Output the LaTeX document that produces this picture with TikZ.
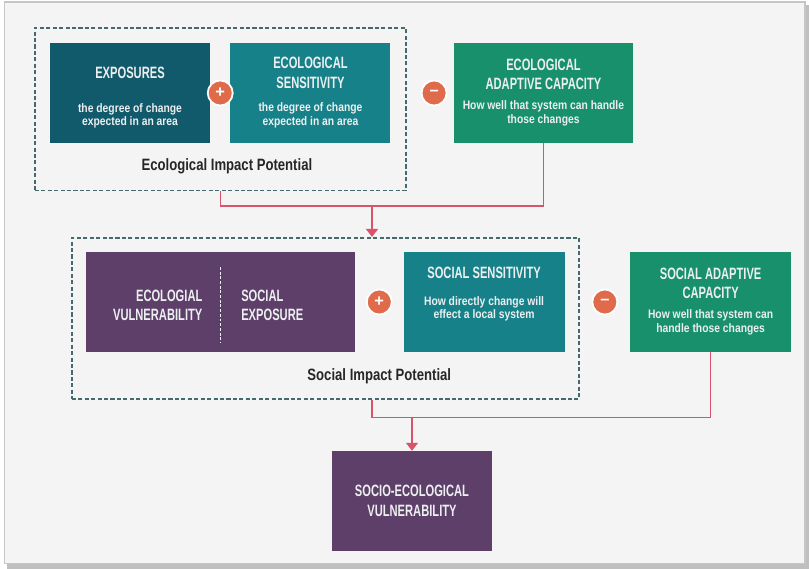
\documentclass[tikz,border=0pt]{standalone}
\usepackage{fontspec}
\setmainfont{Liberation Sans}
\newfontfamily\titlefont{Liberation Sans}[FakeStretch=0.68]
\newfontfamily\notefont{Liberation Sans}[FakeStretch=0.84]
\newfontfamily\labelfont{Liberation Sans}[FakeStretch=0.8]
\usetikzlibrary{positioning,fit,arrows.meta,calc}
\newcommand{\notesize}{\notefont\bfseries\fontsize{10.5}{11.5}\selectfont}
\newcommand{\boxnote}[1]{{\notesize\begin{tabular}[t]{@{}c@{}}#1\end{tabular}}}

\definecolor{bgcol}{HTML}{F4F4F4}
\definecolor{expcol}{HTML}{115A6C}
\definecolor{senscol}{HTML}{17818A}
\definecolor{adaptcol}{HTML}{17906B}
\definecolor{vulncol}{HTML}{5D3F69}
\definecolor{signcol}{HTML}{E06B4A}
\definecolor{linkcol}{HTML}{D9546B}
\definecolor{framecol}{HTML}{456A6C}
\definecolor{txtcol}{HTML}{ECEFEF}

\begin{document}
\begin{tikzpicture}[
    font=\titlefont\bfseries\fontsize{14}{17}\selectfont,
    box/.style={
        minimum width=4.8cm,
        minimum height=3.0cm,
        align=center,
        text=txtcol,
        inner sep=2pt
    },
    expbox/.style={box, fill=expcol},
    sensbox/.style={box, fill=senscol},
    adaptbox/.style={box, fill=adaptcol},
    vulnbox/.style={box, fill=vulncol},
    sign/.style={
        circle,
        fill=signcol,
        draw=white,
        line width=1.5pt,
        minimum size=0.75cm,
        inner sep=0pt,
        text=white,
        font=\bfseries\fontsize{14}{14}\selectfont
    },
    grouplabel/.style={
        font=\labelfont\bfseries\fontsize{14}{16}\selectfont,
        text=black!85,
        inner sep=1pt
    },
    group/.style={
        draw=framecol,
        line width=1.4pt,
        dash pattern=on 3.5pt off 2pt,
        inner sep=0.45cm
    },
    link/.style={draw=linkcol, line width=1.2pt},
    arrow/.style={link, -{Triangle[width=0.36cm, length=0.24cm]}}
]

\useasboundingbox (0,0) rectangle (24.27,-17.07);

% ============================================================
% FRAME
% ============================================================
\fill[gray!50] (0.2,-0.15) rectangle (24.27,-17.07);
\draw[gray!45, line width=1pt, fill=bgcol] (0.14,-0.06) rectangle (24.15,-16.9);

% ============================================================
% ECOLOGICAL IMPACT POTENTIAL
% ============================================================
\node[expbox] (exp) at (3.9,-2.79) {\rule{0pt}{18.5pt}EXPOSURES\\[12pt]\boxnote{the degree of change\\expected in an area}};
\node[sensbox, right=0.6cm of exp] (esens) {ECOLOGICAL\\SENSITIVITY\\[3pt]\boxnote{the degree of change\\expected in an area}};
\node[adaptbox, right=1.89cm of esens, minimum width=5.37cm] (eadapt) {ECOLOGICAL\\ADAPTIVE CAPACITY\\\boxnote{How well that system can handle\\those changes}};

\node[sign] (plus1) at ($(exp.east)!0.5!(esens.west)$) {+};
\node[sign, right=0.9cm of esens] (minus1) {--};

\node[grouplabel] (eiplabel) at ([xshift=0.2cm, yshift=-0.7cm]$(exp.south)!0.5!(esens.south)$) {Ecological Impact Potential};

\node[group, fit=(exp)(esens)(eiplabel)] (ecobox) {};

% ============================================================
% SOCIAL IMPACT POTENTIAL
% ============================================================
\node[vulnbox, minimum width=8.07cm] (vuln) at (6.615,-9.06) {};
\node[anchor=east, align=right, text=txtcol] (evuln) at ([xshift=-0.42cm, yshift=-0.1cm]vuln.center) {ECOLOGIAL\\VULNERABILITY};
\node[anchor=west, align=left, text=txtcol] (sexp) at ([xshift=0.5cm, yshift=-0.1cm]vuln.center) {SOCIAL\\EXPOSURE};
\draw[txtcol, line width=1.2pt, dash pattern=on 2.5pt off 1.5pt] ([yshift=1.05cm]vuln.center) -- ([yshift=-1.2cm]vuln.center);

\node[sign, right=0.32cm of vuln] (plus2) {+};
\node[sensbox, right=0.32cm of plus2, minimum width=4.83cm] (ssens) {SOCIAL SENSITIVITY\\[6pt]\boxnote{How directly change will\\effect a local system}\rule[-27pt]{0pt}{0pt}};
\node[sign, right=0.8cm of ssens] (minus2) {--};
\node[adaptbox, right=0.35cm of minus2, minimum width=4.83cm] (sadapt) {SOCIAL ADAPTIVE\\CAPACITY\\\boxnote{How well that system can\\handle those changes}};

\node[grouplabel] (siplabel) at ([yshift=-2.22cm]plus2) {Social Impact Potential};

\node[group, inner sep=0.42cm, fit=(vuln)(ssens)(siplabel)] (socbox) {};

% ============================================================
% SOCIO-ECOLOGICAL VULNERABILITY
% ============================================================
\node[vulnbox] (sev) at (12.36,-15.03) {SOCIO-ECOLOGICAL\\VULNERABILITY};

% ============================================================
% CONNECTORS
% ============================================================
\coordinate (split1) at (11.16,-6.18);
\coordinate (split2) at ([yshift=0.99cm]sev.north);

\draw[link] (ecobox.south) |- (split1) -| (eadapt.south);
\draw[arrow] (split1) -- (split1 |- socbox.north);

\draw[link] (split1 |- socbox.south) |- (split2) -| (sadapt.south);
\draw[arrow] (split2) -- (sev.north);

\end{tikzpicture}
\end{document}
